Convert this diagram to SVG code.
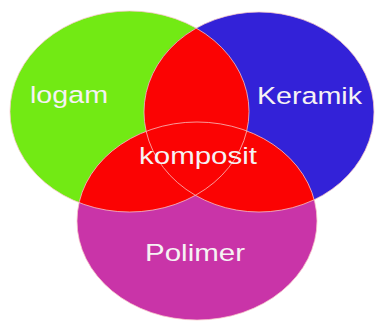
<svg xmlns="http://www.w3.org/2000/svg" width="376" height="321" viewBox="0 0 376 321">
  <style>
    .lbl { font-family: "Liberation Sans", Arial, sans-serif; font-size: 24.5px; fill: #f6f2f4; }
    .edge { fill: none; stroke: #f7c8c8; stroke-width: 0.9; stroke-opacity: 0.85; }
    .red { fill: #fb0303; }
  </style>
  <defs>
    <ellipse id="eG" cx="129.5" cy="111.5" rx="119.5" ry="100.5"/>
    <ellipse id="eB" cx="259" cy="112" rx="115" ry="100"/>
    <ellipse id="eM" cx="197" cy="221" rx="120" ry="99"/>
    <clipPath id="clipG"><use href="#eG"/></clipPath>
    <clipPath id="clipB"><use href="#eB"/></clipPath>
  </defs>
  <rect width="376" height="321" fill="#ffffff"/>
  <g id="logam">
    <use href="#eG" fill="#72ea14"/>
  </g>
  <g id="keramik">
    <use href="#eB" fill="#3322d8"/>
  </g>
  <g id="polimer">
    <use href="#eM" fill="#c934a8"/>
  </g>
  <g id="komposit">
    <g clip-path="url(#clipG)">
      <use href="#eB" class="red"/>
      <use href="#eM" class="red"/>
    </g>
    <g clip-path="url(#clipB)">
      <use href="#eM" class="red"/>
    </g>
  </g>
  <g id="outlines">
    <use href="#eG" class="edge"/>
    <use href="#eB" class="edge"/>
    <use href="#eM" class="edge"/>
  </g>
  <g id="labels">
    <text class="lbl" x="30" y="103" textLength="78" lengthAdjust="spacingAndGlyphs">logam</text>
    <text class="lbl" x="257" y="104" textLength="105" lengthAdjust="spacingAndGlyphs">Keramik</text>
    <text class="lbl" x="139" y="164" textLength="118" lengthAdjust="spacingAndGlyphs">komposit</text>
    <text class="lbl" x="145" y="261" textLength="100" lengthAdjust="spacingAndGlyphs">Polimer</text>
  </g>
</svg>
